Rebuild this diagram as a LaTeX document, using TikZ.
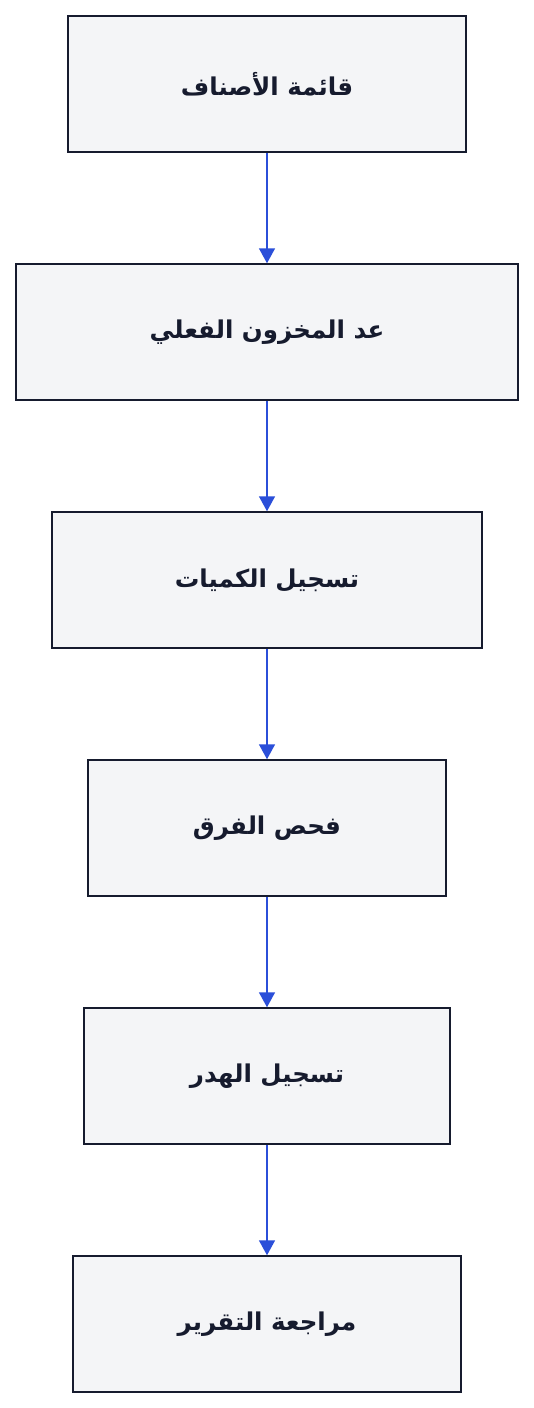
\documentclass[tikz,border=0pt]{standalone}
\usepackage{fontspec}
\newfontfamily\arabicfont[Script=Arabic]{DejaVu Sans}
\TeXXeTstate=1
\usetikzlibrary{arrows.meta}
\definecolor{boxfill}{HTML}{F4F5F7}
\definecolor{boxline}{HTML}{161B2E}
\definecolor{arrowblue}{HTML}{2B4FD9}
\begin{document}
\begin{tikzpicture}[x=1pt,y=-1pt,
  stepbox/.style={draw=boxline, fill=boxfill, line width=1.5pt, inner sep=0pt, text=boxline,
    font=\arabicfont\bfseries\fontsize{24.5pt}{28pt}\selectfont},
  flow/.style={draw=arrowblue, line width=1.6pt, -{Triangle[width=16pt,length=15pt]}}]
\useasboundingbox (0,0) rectangle (534,1408);
\fill[white] (0,0) rectangle (534,1408);
\node[stepbox, minimum width=398pt, minimum height=136pt] (n1) at (267,84) {\beginR قائمة الأصناف\endR};
\node[stepbox, minimum width=502pt, minimum height=136pt] (n2) at (267,332) {\beginR عد المخزون الفعلي\endR};
\node[stepbox, minimum width=430pt, minimum height=136pt] (n3) at (267,580) {\beginR تسجيل الكميات\endR};
\node[stepbox, minimum width=358pt, minimum height=136pt] (n4) at (267,828) {\beginR فحص الفرق\endR};
\node[stepbox, minimum width=366pt, minimum height=136pt] (n5) at (267,1076) {\beginR تسجيل الهدر\endR};
\node[stepbox, minimum width=388pt, minimum height=136pt] (n6) at (267,1324) {\beginR مراجعة التقرير\endR};
\draw[flow] (n1) -- (n2);
\draw[flow] (n2) -- (n3);
\draw[flow] (n3) -- (n4);
\draw[flow] (n4) -- (n5);
\draw[flow] (n5) -- (n6);
\end{tikzpicture}
\end{document}
